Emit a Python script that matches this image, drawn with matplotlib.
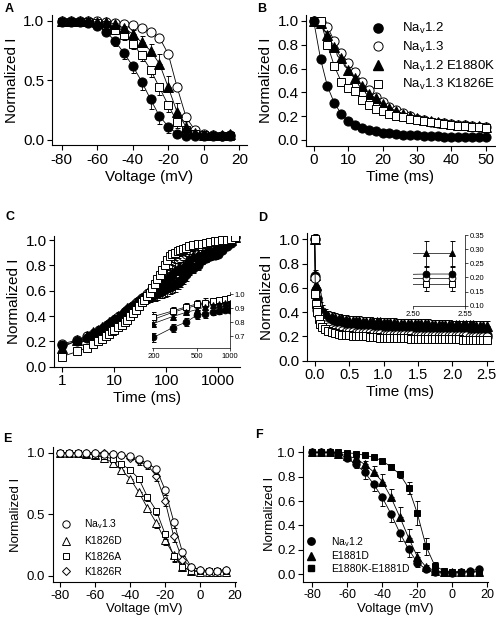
import matplotlib
matplotlib.use('Agg')
import matplotlib.pyplot as plt
from matplotlib.lines import Line2D
from matplotlib.ticker import FixedLocator, NullLocator, FixedFormatter

plt.rcParams['font.family'] = ['Liberation Sans', 'DejaVu Sans']
plt.rcParams['mathtext.fontset'] = 'custom'
plt.rcParams['mathtext.rm'] = 'Liberation Sans'
plt.rcParams['mathtext.it'] = 'Liberation Sans:italic'
plt.rcParams['axes.linewidth'] = 0.8
plt.rcParams['axes.unicode_minus'] = False

# ---------------- data ----------------
volt = [-80, -75, -70, -65, -60, -55, -50, -45, -40, -35, -30, -25, -20, -15, -10, -5, 0, 5, 10, 15]

a_nav12 = [0.99, 0.99, 0.99, 0.98, 0.96, 0.91, 0.83, 0.73, 0.62, 0.49, 0.34, 0.20, 0.11, 0.05, 0.035, 0.03, 0.03, 0.03, 0.03, 0.04]
a_nav13 = [1.0, 1.0, 1.0, 1.0, 1.0, 0.99, 0.985, 0.975, 0.965, 0.94, 0.91, 0.86, 0.72, 0.44, 0.19, 0.08, 0.05, 0.04, 0.03, 0.03]
a_e1880k = [1.0, 1.0, 1.0, 1.0, 0.99, 0.99, 0.975, 0.94, 0.89, 0.82, 0.75, 0.64, 0.44, 0.23, 0.11, 0.06, 0.04, 0.04, 0.04, 0.05]
a_k1826e = [0.99, 0.99, 0.99, 0.99, 0.98, 0.97, 0.92, 0.88, 0.81, 0.71, 0.59, 0.44, 0.29, 0.15, 0.08, 0.05, 0.04, 0.03, 0.03, 0.03]
a_nav12_err = [0, 0, 0, 0, 0.01, 0.02, 0.04, 0.05, 0.06, 0.07, 0.08, 0.07, 0.05, 0.02, 0.01, 0, 0, 0, 0, 0]
a_e1880k_err = [0, 0, 0, 0, 0, 0, 0.01, 0.02, 0.03, 0.05, 0.06, 0.08, 0.10, 0.08, 0.05, 0.02, 0.01, 0, 0, 0]
a_k1826e_err = [0, 0, 0, 0, 0, 0.01, 0.03, 0.04, 0.05, 0.05, 0.06, 0.06, 0.06, 0.05, 0.03, 0.01, 0, 0, 0, 0]
a_nav13_err = [0, 0, 0, 0, 0, 0, 0, 0, 0.01, 0.01, 0.02, 0.02, 0.03, 0.04, 0.03, 0.01, 0, 0, 0, 0]

time_b = [0, 2, 4, 6, 8, 10, 12, 14, 16, 18, 20, 22, 24, 26, 28, 30, 32, 34, 36, 38, 40, 42, 44, 46, 48, 50]
b_nav12 = [1.0, 0.68, 0.45, 0.31, 0.22, 0.16, 0.125, 0.10, 0.085, 0.072, 0.062, 0.055, 0.05, 0.045, 0.041, 0.038, 0.035, 0.033, 0.031, 0.029, 0.027, 0.026, 0.025, 0.024, 0.023, 0.022]
b_nav13 = [1.0, 0.99, 0.95, 0.83, 0.73, 0.65, 0.57, 0.49, 0.42, 0.36, 0.32, 0.28, 0.25, 0.224, 0.20, 0.18, 0.168, 0.155, 0.145, 0.14, 0.134, 0.129, 0.123, 0.118, 0.113, 0.11]
b_e1880k = [1.0, 0.98, 0.88, 0.78, 0.69, 0.59, 0.52, 0.455, 0.39, 0.35, 0.30, 0.27, 0.245, 0.22, 0.20, 0.185, 0.17, 0.16, 0.15, 0.142, 0.135, 0.13, 0.125, 0.12, 0.115, 0.11]
b_k1826e = [1.0, 1.0, 0.80, 0.62, 0.49, 0.44, 0.41, 0.34, 0.29, 0.26, 0.24, 0.22, 0.205, 0.19, 0.18, 0.17, 0.16, 0.15, 0.14, 0.135, 0.13, 0.12, 0.115, 0.11, 0.105, 0.10]

time_c = [1, 2, 3, 4, 5, 6, 7, 8, 9, 10,
          12, 14, 16, 18, 20, 23, 26, 30, 34, 38,
          43, 48, 54, 60, 67, 75, 84, 94, 105, 118,
          132, 148, 166, 186, 210, 240, 280, 330, 400, 480,
          580, 700, 850, 1000, 1200, 1450, 1750, 2100]
c_k1826e = [0.08, 0.12, 0.15, 0.18, 0.20, 0.22, 0.24, 0.26, 0.28, 0.29,
            0.31, 0.33, 0.35, 0.37, 0.40, 0.42, 0.45, 0.48, 0.51, 0.53,
            0.56, 0.58, 0.62, 0.65, 0.69, 0.72, 0.76, 0.80, 0.84, 0.87,
            0.89, 0.90, 0.91, 0.92, 0.93, 0.94, 0.95, 0.96, 0.965, 0.97,
            0.98, 0.985, 0.99, 0.995, 1.00, 1.00, 1.01, 1.02]
c_nav12 = [0.17, 0.20, 0.23, 0.25, 0.27, 0.29, 0.31, 0.33, 0.34, 0.36,
           0.38, 0.40, 0.42, 0.44, 0.45, 0.47, 0.49, 0.51, 0.52, 0.53,
           0.54, 0.55, 0.56, 0.57, 0.58, 0.59, 0.60, 0.61, 0.62, 0.63,
           0.64, 0.65, 0.66, 0.68, 0.70, 0.73, 0.76, 0.78, 0.80, 0.84,
           0.86, 0.87, 0.88, 0.89, 0.92, 0.95, 0.98, 1.02]
c_e1880k = [0.15, 0.21, 0.24, 0.27, 0.29, 0.31, 0.33, 0.35, 0.36, 0.38,
            0.40, 0.42, 0.44, 0.46, 0.47, 0.49, 0.51, 0.53, 0.54, 0.55,
            0.56, 0.57, 0.59, 0.60, 0.62, 0.64, 0.66, 0.68, 0.70, 0.72,
            0.74, 0.76, 0.77, 0.78, 0.79, 0.82, 0.85, 0.87, 0.88, 0.89,
            0.91, 0.92, 0.94, 0.95, 0.97, 0.99, 1.00, 1.02]
c_nav13 = [0.18, 0.21, 0.24, 0.26, 0.28, 0.30, 0.32, 0.34, 0.35, 0.37,
           0.39, 0.41, 0.43, 0.45, 0.46, 0.48, 0.50, 0.52, 0.54, 0.55,
           0.57, 0.59, 0.61, 0.63, 0.65, 0.67, 0.70, 0.72, 0.75, 0.78,
           0.80, 0.83, 0.85, 0.86, 0.87, 0.89, 0.90, 0.92, 0.93, 0.94,
           0.95, 0.96, 0.97, 0.98, 0.99, 1.00, 1.01, 1.02]
c_err = [0.02, 0.02, 0.03, 0.03, 0.03, 0.03, 0.03, 0.03, 0.03, 0.03,
         0.03, 0.03, 0.03, 0.03, 0.03, 0.03, 0.03, 0.03, 0.03, 0.03,
         0.04, 0.04, 0.04, 0.05, 0.05, 0.05, 0.06, 0.06, 0.06, 0.06,
         0.06, 0.06, 0.05, 0.05, 0.05, 0.05, 0.04, 0.04, 0.04, 0.03,
         0.03, 0.03, 0.03, 0.02, 0.02, 0.02, 0.02, 0.02]

time_ci = [200, 300, 400, 500, 600, 700, 800, 900, 1000]
ci_nav12 = [0.69, 0.76, 0.80, 0.85, 0.86, 0.87, 0.88, 0.89, 0.89]
ci_e1880k = [0.79, 0.84, 0.87, 0.89, 0.91, 0.92, 0.93, 0.94, 0.94]
ci_nav13 = [0.82, 0.87, 0.90, 0.92, 0.935, 0.945, 0.955, 0.96, 0.965]
ci_k1826e = [0.84, 0.88, 0.91, 0.93, 0.94, 0.95, 0.96, 0.965, 0.97]
ci_err = [0.03, 0.03, 0.03, 0.03, 0.03, 0.02, 0.02, 0.02, 0.02]

time_d = [0.00, 0.01, 0.02, 0.03, 0.04, 0.06, 0.08, 0.10,
          0.15, 0.20, 0.25, 0.30, 0.35, 0.40, 0.45, 0.50,
          0.55, 0.60, 0.65, 0.70, 0.75, 0.80, 0.85, 0.90,
          0.95, 1.00, 1.05, 1.10, 1.15, 1.20, 1.25, 1.30,
          1.35, 1.40, 1.45, 1.50, 1.55, 1.60, 1.65, 1.70,
          1.75, 1.80, 1.85, 1.90, 1.95, 2.00, 2.05, 2.10,
          2.15, 2.20, 2.25, 2.30, 2.35, 2.40, 2.45, 2.50]
d_e1880k = [1.00, 0.71, 0.62, 0.56, 0.52, 0.47, 0.44, 0.42,
            0.39, 0.37, 0.36, 0.35, 0.345, 0.34, 0.335, 0.33,
            0.33, 0.325, 0.325, 0.32, 0.32, 0.32, 0.315, 0.315,
            0.315, 0.31, 0.31, 0.31, 0.31, 0.305, 0.305, 0.305,
            0.305, 0.30, 0.30, 0.30, 0.30, 0.30, 0.30, 0.295,
            0.295, 0.295, 0.295, 0.295, 0.295, 0.29, 0.29, 0.29,
            0.29, 0.29, 0.29, 0.29, 0.285, 0.285, 0.285, 0.285]
d_nav12 = [1.00, 0.70, 0.58, 0.50, 0.45, 0.40, 0.36, 0.34,
           0.31, 0.29, 0.28, 0.27, 0.265, 0.26, 0.255, 0.25,
           0.25, 0.245, 0.245, 0.24, 0.24, 0.24, 0.235, 0.235,
           0.235, 0.23, 0.23, 0.23, 0.23, 0.225, 0.225, 0.225,
           0.225, 0.225, 0.22, 0.22, 0.22, 0.22, 0.22, 0.22,
           0.22, 0.215, 0.215, 0.215, 0.215, 0.215, 0.215, 0.215,
           0.21, 0.21, 0.21, 0.21, 0.21, 0.21, 0.21, 0.21]
d_nav13 = [1.00, 0.68, 0.55, 0.47, 0.42, 0.37, 0.34, 0.32,
           0.29, 0.275, 0.265, 0.255, 0.25, 0.245, 0.24, 0.235,
           0.235, 0.23, 0.23, 0.225, 0.225, 0.225, 0.22, 0.22,
           0.22, 0.215, 0.215, 0.215, 0.215, 0.21, 0.21, 0.21,
           0.21, 0.21, 0.205, 0.205, 0.205, 0.205, 0.205, 0.205,
           0.205, 0.20, 0.20, 0.20, 0.20, 0.20, 0.20, 0.20,
           0.20, 0.20, 0.195, 0.195, 0.195, 0.195, 0.195, 0.195]
d_k1826e = [1.00, 0.55, 0.47, 0.42, 0.40, 0.34, 0.30, 0.28,
            0.26, 0.245, 0.235, 0.225, 0.22, 0.215, 0.21, 0.21,
            0.205, 0.205, 0.20, 0.20, 0.20, 0.195, 0.195, 0.195,
            0.19, 0.19, 0.19, 0.19, 0.185, 0.185, 0.185, 0.185,
            0.185, 0.18, 0.18, 0.18, 0.18, 0.18, 0.18, 0.18,
            0.175, 0.175, 0.175, 0.175, 0.175, 0.175, 0.175, 0.175,
            0.17, 0.17, 0.17, 0.17, 0.17, 0.17, 0.17, 0.17]
d_err_up = 0.04
d_err_down = 0.03

time_di = [2.487, 2.512, 2.537]
di_e1880k = [0.285, 0.285, 0.285]
di_nav12 = [0.21, 0.212, 0.212]
di_nav13 = [0.197, 0.197, 0.197]
di_k1826e = [0.177, 0.177, 0.177]

e_nav13 = [1.0, 1.0, 1.0, 1.0, 1.0, 0.99, 0.99, 0.98, 0.97, 0.95, 0.91, 0.87, 0.70, 0.44, 0.19, 0.07, 0.05, 0.04, 0.04, 0.05]
e_k1826d = [1.0, 1.0, 1.0, 0.99, 0.98, 0.96, 0.92, 0.86, 0.79, 0.68, 0.55, 0.43, 0.29, 0.17, 0.07, 0.04, 0.03, 0.03, 0.03, 0.03]
e_k1826a = [1.0, 1.0, 1.0, 0.99, 0.98, 0.97, 0.95, 0.91, 0.86, 0.79, 0.64, 0.53, 0.34, 0.16, 0.07, 0.04, 0.04, 0.04, 0.04, 0.04]
e_k1826r = [1.0, 1.0, 1.0, 1.0, 1.0, 1.0, 0.99, 0.98, 0.96, 0.93, 0.90, 0.81, 0.61, 0.32, 0.13, 0.07, 0.05, 0.04, 0.04, 0.05]
e_err = [0, 0, 0, 0, 0, 0, 0.01, 0.01, 0.02, 0.03, 0.03, 0.04, 0.04, 0.05, 0.03, 0.01, 0, 0, 0, 0]

f_nav12 = [1.0, 1.0, 1.0, 0.99, 0.95, 0.90, 0.835, 0.74, 0.63, 0.495, 0.34, 0.205, 0.096, 0.04, 0.02, 0.015, 0.01, 0.02, 0.03, 0.04]
f_e1881d = [1.0, 1.0, 1.0, 0.99, 0.97, 0.95, 0.90, 0.84, 0.76, 0.63, 0.47, 0.30, 0.145, 0.06, 0.03, 0.02, 0.02, 0.02, 0.02, 0.02]
f_double = [1.0, 1.0, 1.0, 1.0, 0.995, 0.99, 0.975, 0.96, 0.93, 0.88, 0.82, 0.71, 0.50, 0.23, 0.07, 0.03, 0.02, 0.02, 0.02, 0.02]
f_nav12_err = [0, 0, 0, 0, 0.02, 0.03, 0.05, 0.06, 0.07, 0.07, 0.07, 0.06, 0.04, 0.02, 0, 0, 0, 0, 0, 0]
f_e1881d_err = [0, 0, 0, 0, 0, 0.02, 0.03, 0.05, 0.06, 0.07, 0.08, 0.07, 0.04, 0.02, 0, 0, 0, 0, 0, 0]
f_double_err = [0, 0, 0, 0, 0, 0, 0, 0.01, 0.01, 0.02, 0.03, 0.05, 0.10, 0.07, 0.03, 0, 0, 0, 0, 0]

# ---------------- figure ----------------
W, H = 496, 622
fig = plt.figure(figsize=(W / 100, H / 100), dpi=100)


def add_ax(x0, y0, x1, y1):
    return fig.add_axes([x0 / W, 1 - y1 / H, (x1 - x0) / W, (y1 - y0) / H])


def style(ax, fs):
    for s in ['top', 'right']:
        ax.spines[s].set_visible(False)
    ax.tick_params(direction='out', length=3.5, width=0.8, labelsize=fs, pad=2)


def series(ax, x, y, marker, filled, ms, lo=None, hi=None, z=2, lw=0.6, ls='-'):
    zeros = [0] * len(y)
    yerr = [lo if lo is not None else zeros, hi if hi is not None else zeros]
    ax.errorbar(x, y, yerr=yerr, fmt=ls, marker=marker, color='black', lw=lw,
                ms=ms, mfc='black' if filled else 'white', mec='black', mew=0.7,
                ecolor='black', elinewidth=0.6, capsize=1.8, capthick=0.6, zorder=z)


MS = 6.6
MSQ = 5.8
FS = 11
FL = 11

# ---- A ----
axA = add_ax(52, 15, 247, 145.5)
style(axA, FS)
series(axA, volt, a_nav13, 'o', False, MS, hi=a_nav13_err, z=2)
series(axA, volt, a_k1826e, 's', False, MSQ, lo=a_k1826e_err, z=3)
series(axA, volt, a_e1880k, '^', True, MS, hi=a_e1880k_err, z=4)
series(axA, volt, a_nav12, 'o', True, MS, lo=a_nav12_err, z=5)
axA.set_xlim(-85.5, 24.3)
axA.set_ylim(-0.048, 1.05)
axA.set_xticks([-80, -60, -40, -20, 0, 20])
axA.set_yticks([0, 0.5, 1.0])
axA.set_yticklabels(['0.0', '0.5', '1.0'])
axA.set_xlabel('Voltage (mV)', fontsize=FL, labelpad=2)
axA.set_ylabel('Normalized I', fontsize=FL, labelpad=3)

# ---- B ----
axB = add_ax(306.3, 15, 494.7, 145.7)
style(axB, FS)
series(axB, time_b, b_nav13, 'o', False, MS, z=2)
series(axB, time_b, b_e1880k, '^', True, MS, z=3)
series(axB, time_b, b_k1826e, 's', False, MSQ, z=4)
series(axB, time_b, b_nav12, 'o', True, MS, z=5)
axB.set_xlim(-2.15, 52.6)
axB.set_ylim(-0.048, 1.05)
axB.set_xticks([0, 10, 20, 30, 40, 50])
axB.set_yticks([0, 0.2, 0.4, 0.6, 0.8, 1.0])
axB.set_yticklabels(['0.0', '0.2', '0.4', '0.6', '0.8', '1.0'])
axB.set_xlabel('Time (ms)', fontsize=FL, labelpad=2)
axB.set_ylabel('Normalized I', fontsize=FL, labelpad=3)
hB = [Line2D([], [], ls='none', marker='o', ms=MS, mfc='black', mec='black'),
      Line2D([], [], ls='none', marker='o', ms=MS, mfc='white', mec='black', mew=0.7),
      Line2D([], [], ls='none', marker='^', ms=MS, mfc='black', mec='black'),
      Line2D([], [], ls='none', marker='s', ms=MSQ, mfc='white', mec='black', mew=0.7)]
lB = [r'Na$_\mathregular{v}$1.2', r'Na$_\mathregular{v}$1.3',
      r'Na$_\mathregular{v}$1.2 E1880K', r'Na$_\mathregular{v}$1.3 K1826E']
axB.legend(hB, lB, loc='upper left', bbox_to_anchor=(0.3455, 0.952), frameon=False,
           fontsize=9.5, borderpad=0, borderaxespad=0, handlelength=1.0,
           handletextpad=1.3, labelspacing=0.27)

# ---- C ----
axC = add_ax(54.3, 235.7, 240, 366.7)
style(axC, FS)
axC.set_xscale('log')
series(axC, time_c, c_nav13, 'o', False, MS, hi=c_err, z=2)
series(axC, time_c, c_e1880k, '^', True, MS, hi=c_err, z=3)
series(axC, time_c, c_nav12, 'o', True, MS, lo=c_err, z=4)
series(axC, time_c, c_k1826e, 's', False, MSQ, lo=c_err, z=5)
axC.set_xlim(0.72, 2600)
axC.set_ylim(0.0, 1.034)
axC.xaxis.set_major_locator(FixedLocator([1, 10, 100, 1000]))
axC.xaxis.set_major_formatter(FixedFormatter(['1', '10', '100', '1000']))
axC.xaxis.set_minor_locator(NullLocator())
axC.set_yticks([0, 0.2, 0.4, 0.6, 0.8, 1.0])
axC.set_yticklabels(['0.0', '0.2', '0.4', '0.6', '0.8', '1.0'])
axC.set_xlabel('Time (ms)', fontsize=FL, labelpad=2)
axC.set_ylabel('Normalized I', fontsize=FL, labelpad=3)

# inset C
axCi = add_ax(151.8, 292.3, 230, 348.3)
axCi.patch.set_alpha(0)
for s in ['top', 'left']:
    axCi.spines[s].set_visible(False)
axCi.spines['bottom'].set_linewidth(0.5)
axCi.spines['right'].set_linewidth(0.5)
axCi.set_xscale('log')
msi = 4.8
series(axCi, time_ci, ci_nav13, 'o', False, msi, z=2, lw=0.5)
series(axCi, time_ci, ci_k1826e, 's', False, msi - 0.5, hi=ci_err, z=3, lw=0.5)
series(axCi, time_ci, ci_e1880k, '^', True, msi, z=4, lw=0.5)
series(axCi, time_ci, ci_nav12, 'o', True, msi, lo=ci_err, hi=ci_err, z=5, lw=0.5)
axCi.set_xlim(193, 1010)
axCi.set_ylim(0.612, 1.014)
axCi.yaxis.tick_right()
axCi.xaxis.set_major_locator(FixedLocator([200, 500, 1000]))
axCi.xaxis.set_major_formatter(FixedFormatter(['200', '500', '1000']))
axCi.xaxis.set_minor_locator(NullLocator())
axCi.set_yticks([0.7, 0.8, 0.9, 1.0])
axCi.set_yticklabels(['0.7', '0.8', '0.9', '1.0'])
axCi.tick_params(direction='out', length=2, width=0.5, labelsize=5.5, pad=1.5)

# ---- D ----
axD = add_ax(307.3, 233, 493, 360.7)
style(axD, FS)
axD.tick_params(axis='x', labelsize=10.5)
series(axD, time_d, d_e1880k, '^', True, MS, hi=[d_err_up] * len(time_d), z=2)
series(axD, time_d, d_nav12, 'o', True, MS, z=3)
series(axD, time_d, d_nav13, 'o', False, MS, z=4)
series(axD, time_d, d_k1826e, 's', False, MSQ, lo=[d_err_down] * len(time_d), z=5)
axD.set_xlim(-0.107, 2.59)
axD.set_ylim(0.0, 1.052)
axD.set_xticks([0, 0.5, 1.0, 1.5, 2.0, 2.5])
axD.set_xticklabels(['0.0', '0.5', '1.0', '1.5', '2.0', '2.5'])
axD.set_yticks([0, 0.2, 0.4, 0.6, 0.8, 1.0])
axD.set_yticklabels(['0.0', '0.2', '0.4', '0.6', '0.8', '1.0'])
axD.set_xlabel('Time (ms)', fontsize=FL, labelpad=2)
axD.set_ylabel('Normalized I', fontsize=FL, labelpad=3)

# inset D
axDi = add_ax(413.3, 235, 465, 305.7)
axDi.patch.set_alpha(0)
for s in ['top', 'left']:
    axDi.spines[s].set_visible(False)
axDi.spines['bottom'].set_linewidth(0.5)
axDi.spines['right'].set_linewidth(0.5)
series(axDi, time_di, di_e1880k, '^', True, msi, lo=[0.045] * 3, hi=[0.045] * 3, z=2, lw=0.5)
series(axDi, time_di, di_nav13, 'o', False, msi, lo=[0.01] * 3, hi=[0.01] * 3, z=3, lw=0.5)
series(axDi, time_di, di_k1826e, 's', False, msi - 0.5, lo=[0.025] * 3, z=4, lw=0.5)
series(axDi, time_di, di_nav12, 'o', True, msi, hi=[0.025] * 3, z=5, lw=0.5)
axDi.set_xlim(2.50, 2.55)
axDi.set_ylim(0.10, 0.35)
axDi.yaxis.tick_right()
axDi.set_xticks([2.50, 2.55])
axDi.set_xticklabels(['2.50', '2.55'])
axDi.set_yticks([0.10, 0.15, 0.20, 0.25, 0.30, 0.35])
axDi.set_yticklabels(['0.10', '0.15', '0.20', '0.25', '0.30', '0.35'])
axDi.tick_params(direction='out', length=2, width=0.5, labelsize=5.5, pad=1.5)

# ---- E ----
FS2 = 9.5
FL2 = 9.5
MS2 = 5.3
axE = add_ax(52.7, 446.7, 236, 582.3)
style(axE, FS2)
series(axE, volt, e_k1826d, '^', False, MS2, lo=e_err, z=2)
series(axE, volt, e_k1826a, 's', False, MS2 - 0.6, lo=e_err, z=3)
series(axE, volt, e_k1826r, 'D', False, MS2 - 0.8, lo=e_err, z=4)
series(axE, volt, e_nav13, 'o', False, MS2, lo=e_err, z=5)
axE.set_xlim(-84.2, 20.6)
axE.set_ylim(-0.054, 1.049)
axE.set_xticks([-80, -60, -40, -20, 0, 20])
axE.set_yticks([0, 0.5, 1.0])
axE.set_yticklabels(['0.0', '0.5', '1.0'])
axE.set_xlabel('Voltage (mV)', fontsize=FL2, labelpad=1)
axE.set_ylabel('Normalized I', fontsize=FL2, labelpad=3)
hE = [Line2D([], [], ls='none', marker='o', ms=MS2, mfc='white', mec='black', mew=0.7),
      Line2D([], [], ls='none', marker='^', ms=MS2, mfc='white', mec='black', mew=0.7),
      Line2D([], [], ls='none', marker='s', ms=MS2 - 0.6, mfc='white', mec='black', mew=0.7),
      Line2D([], [], ls='none', marker='D', ms=MS2 - 0.8, mfc='white', mec='black', mew=0.7)]
lE = [r'Na$_\mathregular{v}$1.3', 'K1826D', 'K1826A', 'K1826R']
axE.legend(hE, lE, loc='upper left', bbox_to_anchor=(0.045, 0.478), frameon=False,
           fontsize=7.5, borderpad=0, borderaxespad=0, handlelength=1.0,
           handletextpad=1.25, labelspacing=0.5)

# ---- F ----
axF = add_ax(303.3, 445.7, 488, 581.7)
style(axF, FS2)
axF.tick_params(axis='x', labelsize=9)
series(axF, volt, f_double, 's', True, MS2 - 0.6, lo=f_double_err, hi=f_double_err, z=2)
series(axF, volt, f_e1881d, '^', True, MS2, hi=f_e1881d_err, z=3)
series(axF, volt, f_nav12, 'o', True, MS2, lo=f_nav12_err, z=4)
axF.set_xlim(-85.1, 20.4)
axF.set_ylim(-0.061, 1.054)
axF.set_xticks([-80, -60, -40, -20, 0, 20])
axF.set_yticks([0, 0.2, 0.4, 0.6, 0.8, 1.0])
axF.set_yticklabels(['0.0', '0.2', '0.4', '0.6', '0.8', '1.0'])
axF.set_xlabel('Voltage (mV)', fontsize=FL2, labelpad=1)
axF.set_ylabel('Normalized I', fontsize=FL2, labelpad=1)
hF = [Line2D([], [], ls='none', marker='o', ms=MS2, mfc='black', mec='black'),
      Line2D([], [], ls='none', marker='^', ms=MS2, mfc='black', mec='black'),
      Line2D([], [], ls='none', marker='s', ms=MS2 - 0.6, mfc='black', mec='black')]
lF = [r'Na$_\mathregular{v}$1.2', 'E1881D', 'E1880K-E1881D']
axF.legend(hF, lF, loc='upper left', bbox_to_anchor=(0.011, 0.345), frameon=False,
           fontsize=7.5, borderpad=0, borderaxespad=0, handlelength=1.0,
           handletextpad=1.45, labelspacing=0.25)

# panel letters
for letter, x, y in [('A', 5, 9), ('B', 257, 9), ('C', 5, 217), ('D', 258, 218),
                     ('E', 3, 439), ('F', 255, 435)]:
    fig.text(x / W, 1 - y / H, letter, fontsize=9, fontweight='bold', va='center', ha='left')

fig.savefig('out.png', dpi=100)
